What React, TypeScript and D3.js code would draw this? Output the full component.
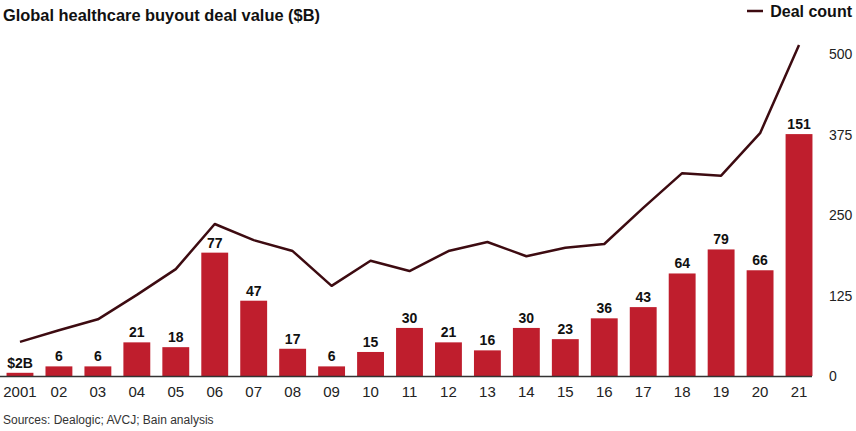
import React, { useEffect } from "react";
import * as d3 from "d3";

const WIDTH = 856;
const HEIGHT = 431;
const BASE_Y = 376;
const TOP_Y = 54;

const YEARS = ["2001", "02", "03", "04", "05", "06", "07", "08", "09", "10", "11", "12", "13", "14", "15", "16", "17", "18", "19", "20", "21"];
const DEAL_VALUE = [2, 6, 6, 21, 18, 77, 47, 17, 6, 15, 30, 21, 16, 30, 23, 36, 43, 64, 79, 66, 151];
const DEAL_COUNT = [53, 71, 88, 126, 166, 236, 211, 194, 140, 179, 163, 194, 208, 186, 199, 205, 261, 315, 311, 377, 514];
const COUNT_TICKS = [0, 125, 250, 375, 500];

const BAR_COLOR = "#bf1e2d";
const LINE_COLOR = "#3d0b11";
const FONT = "'Liberation Sans', Arial, sans-serif";

export default function App() {
  useEffect(() => {
    document.body.style.margin = "0";
  }, []);

  const x = d3.scaleBand<string>().domain(YEARS).range([0.5, 818.5]).paddingInner(0.31).paddingOuter(0.155);
  const yValue = d3.scaleLinear().domain([0, 201]).range([BASE_Y, TOP_Y]);
  const yCount = d3.scaleLinear().domain([0, 500]).range([BASE_Y, TOP_Y]);

  const line = d3
    .line<number>()
    .x((_, i) => (x(YEARS[i]) as number) + x.bandwidth() / 2)
    .y((d) => yCount(d));

  return (
    <svg width={WIDTH} height={HEIGHT} style={{ display: "block", fontFamily: FONT }}>
      <rect width={WIDTH} height={HEIGHT} fill="#fff" />
      <text x={3} y={21} fontSize={16.4} fontWeight="bold" fill="#111">
        Global healthcare buyout deal value ($B)
      </text>

      {/* legend */}
      <line x1={747} x2={763} y1={11} y2={11} stroke={LINE_COLOR} strokeWidth={2.5} />
      <text x={852} y={17} fontSize={16} fontWeight="bold" fill="#111" textAnchor="end">
        Deal count
      </text>

      {/* bars */}
      {DEAL_VALUE.map((v, i) => {
        const bx = x(YEARS[i]) as number;
        return (
          <g key={YEARS[i]}>
            <rect x={bx} y={yValue(v)} width={x.bandwidth()} height={BASE_Y - yValue(v)} fill={BAR_COLOR} />
            <text
              x={bx + x.bandwidth() / 2}
              y={yValue(v) - 5}
              textAnchor="middle"
              fontSize={14}
              fontWeight="bold"
              fill="#111"
            >
              {i === 0 ? `$${v}B` : v}
            </text>
          </g>
        );
      })}

      {/* baseline */}
      <line x1={0} x2={812} y1={BASE_Y + 0.5} y2={BASE_Y + 0.5} stroke="#333" strokeWidth={1.5} />

      {/* x labels */}
      {YEARS.map((yr) => (
        <text
          key={yr}
          x={(x(yr) as number) + x.bandwidth() / 2}
          y={397}
          textAnchor="middle"
          fontSize={15}
          fill="#222"
        >
          {yr}
        </text>
      ))}

      {/* deal count line */}
      <path d={line(DEAL_COUNT) ?? ""} fill="none" stroke={LINE_COLOR} strokeWidth={2.5} strokeLinejoin="round" />

      {/* right axis */}
      {COUNT_TICKS.map((t) => (
        <text key={t} x={829} y={yCount(t) + 5} fontSize={14} fill="#222">
          {t}
        </text>
      ))}

      <text x={3} y={424} fontSize={12} fill="#333">
        Sources: Dealogic; AVCJ; Bain analysis
      </text>
    </svg>
  );
}
